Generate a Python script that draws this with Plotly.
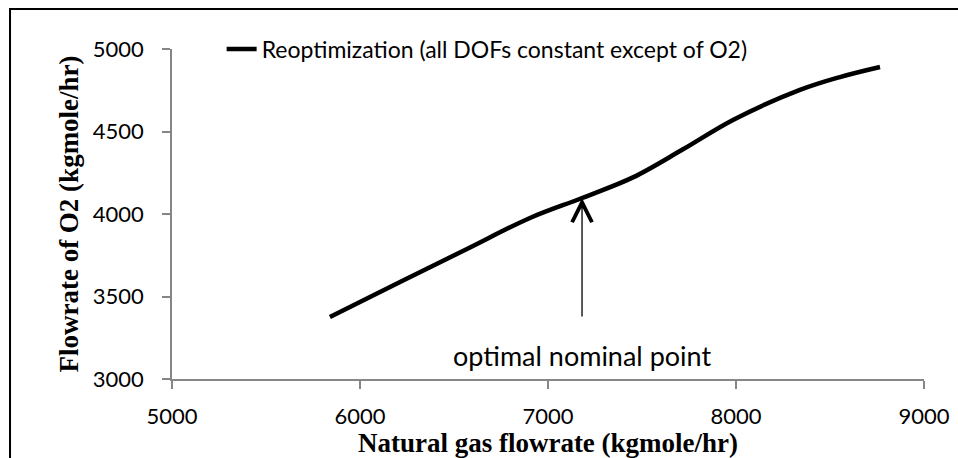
import plotly.graph_objects as go

natural_gas = [5840, 6213, 6569, 6904, 7181, 7452, 7718, 7984, 8340, 8553, 8766]
o2_flow = [3376, 3588, 3788, 3976, 4097, 4222, 4392, 4570, 4752, 4830, 4891]
series_name = "Reoptimization (all DOFs constant except of O2)"
nominal_x = 7181
nominal_y = 4097
arrow_tail_y = 3370
label_y = 3145
x_ticks = [5000, 6000, 7000, 8000, 9000]
y_ticks = [3000, 3500, 4000, 4500, 5000]

fig = go.Figure()
fig.add_trace(go.Scatter(
    x=natural_gas, y=o2_flow, mode="lines", name=series_name,
    line=dict(color="black", width=4.5, shape="spline", smoothing=1.0),
))

axis_common = dict(
    showgrid=False, zeroline=False, showline=True, linecolor="#868686", linewidth=1.5,
    ticks="outside", ticklen=8, tickwidth=1.5, tickcolor="#868686",
    tickfont=dict(family="Lato", size=22, color="black"),
    automargin=False,
)
fig.update_xaxes(range=[5000, 9000], tickvals=x_ticks, ticktext=[str(v) for v in x_ticks],
                 ticklabelstandoff=9,
                 title=dict(text="<b>Natural gas flowrate (kgmole/hr)</b>", standoff=6,
                            font=dict(family="Liberation Serif", size=27, color="black")),
                 **axis_common)
fig.update_yaxes(range=[3000, 5000], tickvals=y_ticks, ticktext=[str(v) for v in y_ticks],
                 ticklabelstandoff=14,
                 title=dict(text="<b>Flowrate of O2 (kgmole/hr)</b>", standoff=6,
                            font=dict(family="Liberation Serif", size=27, color="black")),
                 **axis_common)

fig.add_annotation(x=nominal_x, y=nominal_y, ax=nominal_x, ay=arrow_tail_y,
                   xref="x", yref="y", axref="x", ayref="y", text="",
                   showarrow=True, arrowhead=5, arrowsize=3, arrowwidth=1.3, arrowcolor="black")
fig.add_annotation(x=nominal_x, y=label_y, xref="x", yref="y", text="optimal nominal point",
                   showarrow=False, font=dict(family="Lato", size=27, color="black"))

fig.add_shape(type="rect", xref="paper", yref="paper", x0=-0.2154, y0=-0.3, x1=1.08, y1=1.1212,
              line=dict(color="black", width=2), fillcolor="rgba(0,0,0,0)", layer="below")

fig.update_layout(
    width=958, height=458,
    margin=dict(l=172, r=34, t=49, b=79),
    paper_bgcolor="white", plot_bgcolor="white",
    showlegend=True,
    legend=dict(x=0.066, y=1.0, xanchor="left", yanchor="middle", bgcolor="rgba(0,0,0,0)",
                font=dict(family="Lato", size=23, color="black"),
                tracegroupgap=0),
)

fig.write_html("out.html", config={"displayModeBar": False},
               post_script="document.body.style.margin='0';document.body.style.overflow='hidden';")
